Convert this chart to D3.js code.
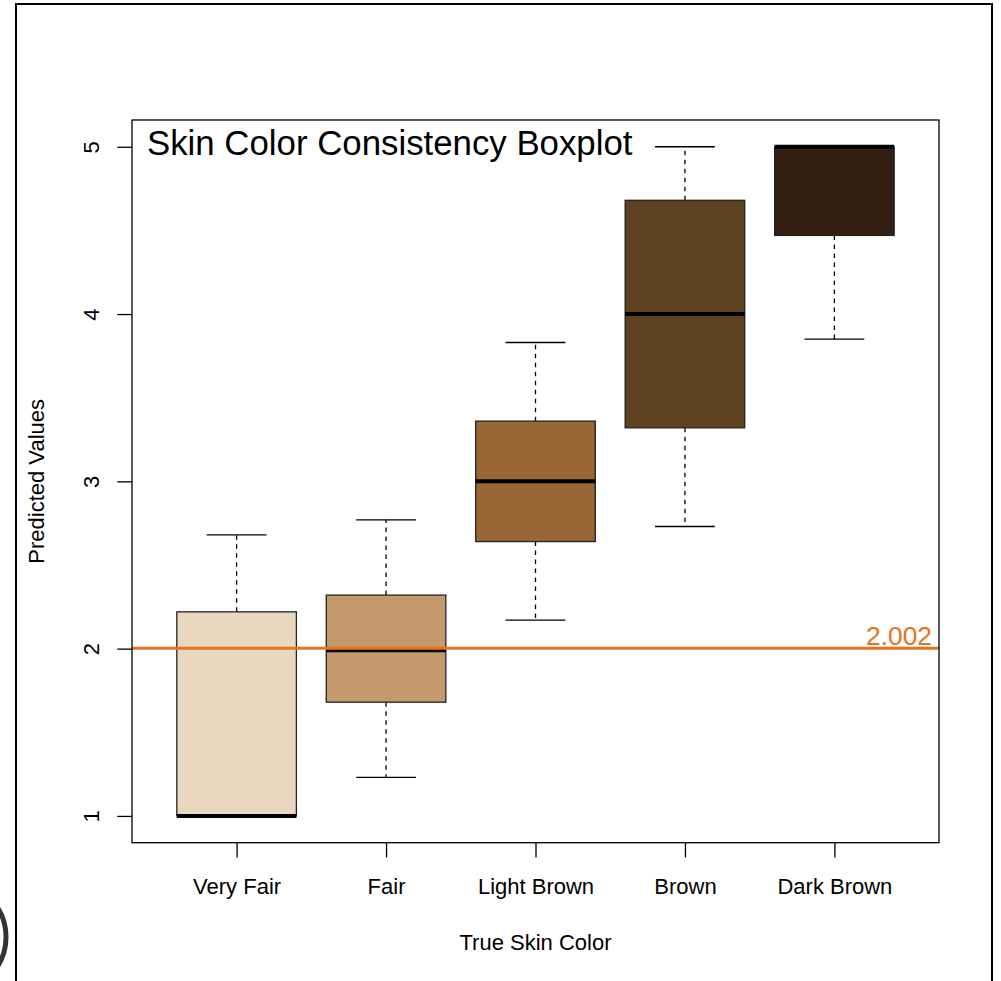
<!DOCTYPE html>
<html>
<head>
<meta charset="utf-8">
<script src="https://cdn.jsdelivr.net/npm/d3@7"></script>
<style>
  html, body { margin: 0; padding: 0; background: #fff; }
  svg { display: block; font-family: "Liberation Sans", Arial, Helvetica, sans-serif; }
</style>
</head>
<body>
<svg id="chart" width="1001" height="981"></svg>
<script>
// Skin colour groups and their five-number summaries
const categories = ["Very Fair", "Fair", "Light Brown", "Brown", "Dark Brown"];
const whiskerLow  = [1.00, 1.23, 2.17, 2.73, 3.85];
const quartile1   = [1.00, 1.68, 2.64, 3.32, 4.47];
const medians     = [1.00, 1.99, 3.00, 4.00, 5.00];
const quartile3   = [2.22, 2.32, 3.36, 4.68, 5.00];
const whiskerHigh = [2.68, 2.77, 3.83, 5.00, 5.00];
const boxColors   = ["#EAD7C0", "#C4996B", "#996636", "#5E4220", "#332013"];
const yTicks      = [1, 2, 3, 4, 5];
const referenceValue = 2.002;

const svg = d3.select("#chart");

// plot region
const plotLeft = 132, plotRight = 939, plotTop = 120, plotBottom = 842.7;

const x = d3.scaleLinear().domain([0.3, 5.7]).range([plotLeft, plotRight]);
const y = d3.scaleLinear().domain([0.84, 5.16]).range([plotBottom, plotTop]);

// outer device frame
svg.append("rect")
  .attr("x", 16).attr("y", 4).attr("width", 976).attr("height", 1020)
  .attr("fill", "none").attr("stroke", "#000").attr("stroke-width", 2);

// ring partly visible at lower left edge
svg.append("circle")
  .attr("cx", -49).attr("cy", 937).attr("r", 55)
  .attr("fill", "none").attr("stroke", "#333").attr("stroke-width", 5);

const boxW = x(1.8) - x(1);      // 0.8 category units
const capW = x(1.4) - x(1);      // 0.4 category units

const groups = svg.append("g").selectAll("g")
  .data(categories.map((c, i) => ({
    c, i, lo: whiskerLow[i], q1: quartile1[i], med: medians[i],
    q3: quartile3[i], hi: whiskerHigh[i], col: boxColors[i]
  })))
  .join("g");

// whiskers (dashed)
groups.append("line")
  .attr("x1", d => x(d.i + 1)).attr("x2", d => x(d.i + 1))
  .attr("y1", d => y(d.q3)).attr("y2", d => y(d.hi))
  .attr("stroke", "#000").attr("stroke-width", 1.3).attr("stroke-dasharray", "4.5,4.5");
groups.append("line")
  .attr("x1", d => x(d.i + 1)).attr("x2", d => x(d.i + 1))
  .attr("y1", d => y(d.q1)).attr("y2", d => y(d.lo))
  .attr("stroke", "#000").attr("stroke-width", 1.3).attr("stroke-dasharray", "4.5,4.5");

// staples
groups.filter(d => d.hi > d.q3).append("line")
  .attr("x1", d => x(d.i + 1) - capW / 2).attr("x2", d => x(d.i + 1) + capW / 2)
  .attr("y1", d => y(d.hi)).attr("y2", d => y(d.hi))
  .attr("stroke", "#000").attr("stroke-width", 1.3);
groups.filter(d => d.lo < d.q1).append("line")
  .attr("x1", d => x(d.i + 1) - capW / 2).attr("x2", d => x(d.i + 1) + capW / 2)
  .attr("y1", d => y(d.lo)).attr("y2", d => y(d.lo))
  .attr("stroke", "#000").attr("stroke-width", 1.3);

// boxes
groups.append("rect")
  .attr("x", d => x(d.i + 1) - boxW / 2)
  .attr("width", boxW)
  .attr("y", d => y(d.q3))
  .attr("height", d => y(d.q1) - y(d.q3))
  .attr("fill", d => d.col)
  .attr("stroke", "#222").attr("stroke-width", 1.3);

// medians
groups.append("line")
  .attr("x1", d => x(d.i + 1) - boxW / 2).attr("x2", d => x(d.i + 1) + boxW / 2)
  .attr("y1", d => y(d.med)).attr("y2", d => y(d.med))
  .attr("stroke", "#000").attr("stroke-width", 4);

// reference line and its label
svg.append("line")
  .attr("x1", plotLeft).attr("x2", plotRight)
  .attr("y1", y(referenceValue)).attr("y2", y(referenceValue))
  .attr("stroke", "#E8731E").attr("stroke-width", 3);
svg.append("text")
  .attr("x", 932).attr("y", y(referenceValue) - 3.5)
  .attr("text-anchor", "end")
  .attr("font-size", 26.4)
  .attr("fill", "#E8731E")
  .text(referenceValue.toFixed(3));

// plot box
svg.append("rect")
  .attr("x", plotLeft).attr("y", plotTop)
  .attr("width", plotRight - plotLeft).attr("height", plotBottom - plotTop)
  .attr("fill", "none").attr("stroke", "#000").attr("stroke-width", 1.3);

// y axis
const yAxis = svg.append("g")
  .attr("transform", `translate(${plotLeft},0)`)
  .call(d3.axisLeft(y).tickValues(yTicks).tickSize(14.7).tickFormat(d3.format("d")));
yAxis.select(".domain").remove();
yAxis.selectAll(".tick line").attr("stroke", "#000").attr("stroke-width", 1.3);
yAxis.selectAll(".tick text")
  .attr("x", null).attr("dy", null)
  .attr("text-anchor", "middle")
  .attr("transform", "translate(-33,0) rotate(-90)")
  .attr("font-size", 22)
  .attr("font-family", "Liberation Sans, Arial, sans-serif")
  .attr("fill", "#000");

// x axis
const xAxis = svg.append("g")
  .attr("transform", `translate(0,${plotBottom})`)
  .call(d3.axisBottom(x).tickValues(d3.range(1, categories.length + 1))
    .tickSize(14.7).tickFormat(d => categories[d - 1]));
xAxis.select(".domain").remove();
xAxis.selectAll(".tick line").attr("stroke", "#000").attr("stroke-width", 1.3);
xAxis.selectAll(".tick text")
  .attr("y", 51.6).attr("dy", null)
  .attr("font-size", 22)
  .attr("font-family", "Liberation Sans, Arial, sans-serif")
  .attr("fill", "#000");

// axis titles
svg.append("text")
  .attr("transform", `translate(44,${(plotTop + plotBottom) / 2}) rotate(-90)`)
  .attr("text-anchor", "middle")
  .attr("font-size", 22)
  .text("Predicted Values");
svg.append("text")
  .attr("x", (plotLeft + plotRight) / 2).attr("y", 949.5)
  .attr("text-anchor", "middle")
  .attr("font-size", 22)
  .text("True Skin Color");

// title inside the plot region
svg.append("text")
  .attr("x", 147).attr("y", 155)
  .attr("font-size", 34.8)
  .text("Skin Color Consistency Boxplot");
</script>
</body>
</html>
